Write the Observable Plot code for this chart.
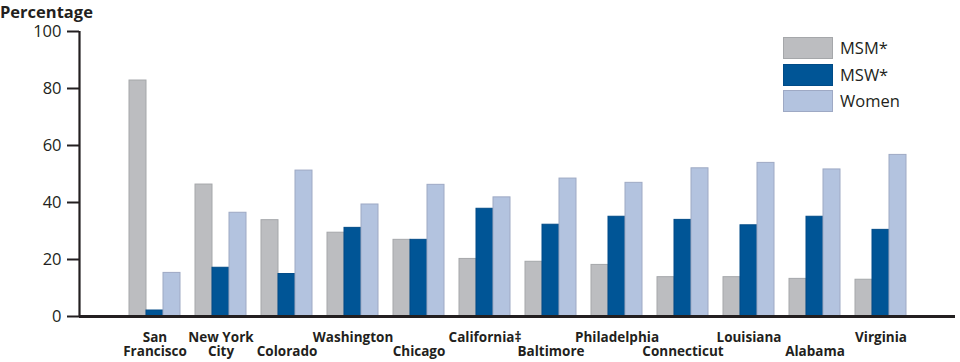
<!DOCTYPE html>
<html>
<head>
<meta charset="utf-8">
<script src="https://cdn.jsdelivr.net/npm/d3@7"></script>
<script src="https://cdn.jsdelivr.net/npm/@observablehq/plot@0.6"></script>
<style>
  html, body { margin: 0; padding: 0; background: #fff; }
  #wrap { position: relative; width: 960px; height: 362px; font-family: "Open Sans", sans-serif; color: #231f20; }
  #wrap svg { position: absolute; left: 0; top: 0; }
  #title { position: absolute; left: 0; top: 0; font-size: 16.5px; font-weight: bold; line-height: normal; z-index: 3; }
  #legend { position: absolute; left: 783px; top: 35px; z-index: 3; }
  .item { display: flex; align-items: center; height: 26.5px; }
  .sw { width: 48px; height: 20px; border: 1px solid; margin-right: 7px; box-sizing: content-box; }
  .lab { font-size: 16.5px; line-height: 20px; }
</style>
</head>
<body>
<div id="wrap">
  <div id="title">Percentage</div>
  <div id="legend"></div>
</div>
<script>
const cities = ["San Francisco","New York City","Colorado","Washington","Chicago","California","Baltimore","Philadelphia","Connecticut","Louisiana","Alabama","Virginia"];
const cityLabels = ["San\nFrancisco","New York\nCity","\nColorado","Washington","\nChicago","California\u2021","\nBaltimore","Philadelphia","\nConnecticut","Louisiana","\nAlabama","Virginia"];
const seriesNames = ["MSM*","MSW*","Women"];
const msm   = [82.8, 46.3, 33.8, 29.4, 26.9, 20.2, 19.2, 18.1, 13.8, 13.8, 13.2, 12.9];
const msw   = [2.1, 17.1, 14.9, 31.1, 26.9, 37.8, 32.2, 35.0, 33.9, 32.0, 35.0, 30.4];
const women = [15.3, 36.4, 51.2, 39.3, 46.2, 41.8, 48.4, 46.9, 52.0, 53.9, 51.6, 56.7];
const yTicks = [0, 20, 40, 60, 80, 100];

const fills   = ["#bcbdc0", "#005596", "#b3c3df"];
const strokes = ["#a5a7aa", "#004b87", "#9ea9c4"];

const seriesValues = [msm, msw, women];
const data = [];
cities.forEach((c, i) => seriesNames.forEach((s, j) => data.push({city: c, series: s, value: seriesValues[j][i]})));
const labelOf = new Map(cities.map((c, i) => [c, cityLabels[i]]));

const W = 960, H = 362;
const common = {width: W, height: H, marginLeft: 79, marginRight: 5, marginTop: 31, marginBottom: 46};
const font = '"Open Sans", sans-serif';

const axes = Plot.plot({
  ...common,
  style: {fontFamily: font, color: "#231f20", background: "transparent", overflow: "visible"},
  x: {domain: [0, 1], axis: null},
  y: {domain: [0, 100], axis: null},
  marks: [
    Plot.axisY({ticks: yTicks, tickSize: 12, tickPadding: 6, fontSize: 16.5, label: null, stroke: "#231f20", strokeWidth: 2, fill: "#231f20"}),
    Plot.ruleX([0], {y1: 0, y2: 100, stroke: "#231f20", strokeWidth: 2.2})
  ]
});

const bars = Plot.plot({
  ...common,
  style: {fontFamily: font, color: "#231f20", background: "transparent", overflow: "visible"},
  fx: {domain: cities, paddingInner: 0.23, paddingOuter: 0.72, label: null},
  x: {domain: seriesNames, padding: 0, axis: null},
  y: {domain: [0, 100], axis: null},
  marks: [
    ...seriesNames.map((s, j) => Plot.barY(data.filter(d => d.series === s), {
      fx: "city", x: "series", y: "value", fill: fills[j], stroke: strokes[j], strokeWidth: 1
    })),
    Plot.axisFx({anchor: "bottom", tickSize: 0, tickPadding: 15, tickFormat: d => labelOf.get(d),
      fontSize: 13.5, fontWeight: "bold", lineHeight: 1.08, label: null, fill: "#231f20"})
  ]
});

const base = Plot.plot({
  ...common,
  style: {background: "transparent", overflow: "visible"},
  x: {domain: [0, 1], axis: null},
  y: {domain: [0, 100], axis: null},
  marks: [Plot.ruleY([0], {stroke: "#231f20", strokeWidth: 3})]
});

const wrap = document.getElementById("wrap");
wrap.appendChild(axes);
wrap.appendChild(bars);
wrap.appendChild(base);

const legend = document.getElementById("legend");
seriesNames.forEach((s, j) => {
  const it = document.createElement("div");
  it.className = "item";
  const sw = document.createElement("div");
  sw.className = "sw";
  sw.style.background = fills[j];
  sw.style.borderColor = strokes[j];
  const lb = document.createElement("span");
  lb.className = "lab";
  lb.textContent = s;
  it.appendChild(sw); it.appendChild(lb);
  legend.appendChild(it);
});
</script>
</body>
</html>
